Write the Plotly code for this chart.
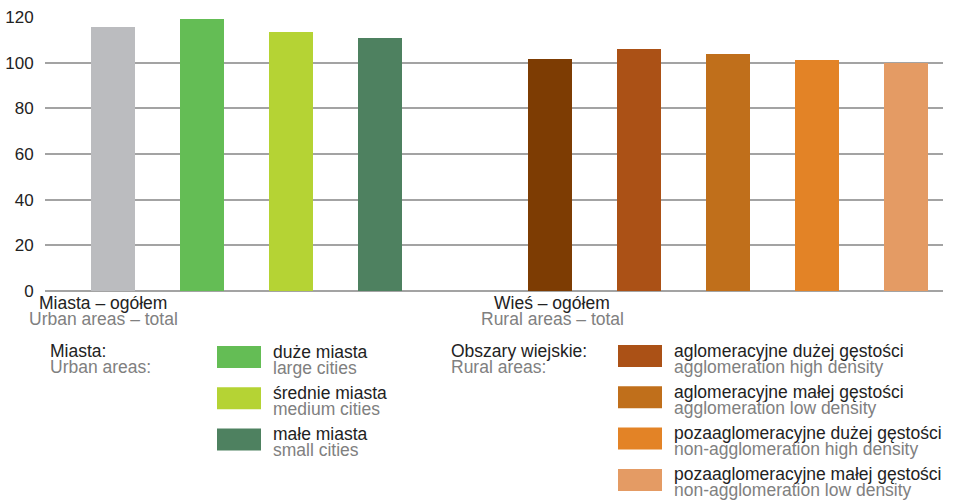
import plotly.graph_objects as go

# ---- data ----
urban_labels_pl = ["Miasta – ogółem", "duże miasta", "średnie miasta", "małe miasta"]
urban_labels_en = ["Urban areas – total", "large cities", "medium cities", "small cities"]
urban_values = [115.5, 119.0, 113.3, 110.6]
urban_colors = ["#BBBCBF", "#64BD55", "#B5D334", "#4E8160"]

rural_labels_pl = ["Wieś – ogółem", "aglomeracyjne dużej gęstości", "aglomeracyjne małej gęstości",
                   "pozaaglomeracyjne dużej gęstości", "pozaaglomeracyjne małej gęstości"]
rural_labels_en = ["Rural areas – total", "agglomeration high density", "agglomeration low density",
                   "non-agglomeration high density", "non-agglomeration low density"]
rural_values = [101.4, 105.8, 103.6, 101.0, 99.7]
rural_colors = ["#7D3C03", "#AB5116", "#C06F1B", "#E38326", "#E49B64"]

y_ticks = [0, 20, 40, 60, 80, 100, 120]

# ---- layout parameters ----
W, H = 954, 502
ML, MR, MT, MB = 45, 11, 17, 211
PW, PH = W - ML - MR, H - MT - MB
RURAL_OFFSET = 4.916
BAR_W = 0.495
FONT = "Liberation Sans, Arial, sans-serif"
DARK = "#222222"
GREY = "#808080"
FS = 17.5


def px(x):
    return (x - ML) / PW


def py(y):
    return (H - MB - y) / PH


urban_x = [i for i in range(len(urban_values))]
rural_x = [RURAL_OFFSET + i for i in range(len(rural_values))]

fig = go.Figure()
fig.add_trace(go.Bar(x=urban_x, y=urban_values, marker=dict(color=urban_colors, line=dict(width=0)),
                     width=BAR_W, hovertext=urban_labels_pl, showlegend=False))
fig.add_trace(go.Bar(x=rural_x, y=rural_values, marker=dict(color=rural_colors, line=dict(width=0)),
                     width=BAR_W, hovertext=rural_labels_pl, showlegend=False))

annotations = []
shapes = []


def text(x, y, s, color, anchor="left"):
    annotations.append(dict(xref="paper", yref="paper", x=px(x), y=py(y), text=s, showarrow=False,
                            xanchor=anchor, yanchor="middle", font=dict(family=FONT, size=FS, color=color),
                            borderpad=0))


# category labels below axis
text(103, 303, urban_labels_pl[0], DARK, "center")
text(103, 319, urban_labels_en[0], GREY, "center")
text(552, 303, rural_labels_pl[0], DARK, "center")
text(552, 319, rural_labels_en[0], GREY, "center")

# legend headings
text(49, 351, "Miasta:", DARK)
text(49, 367, "Urban areas:", GREY)
text(450, 351, "Obszary wiejskie:", DARK)
text(450, 367, "Rural areas:", GREY)

STEP = 41.3


def legend_item(sx, tx, y0, color, pl, en):
    shapes.append(dict(type="rect", xref="paper", yref="paper", x0=px(sx), x1=px(sx + 44),
                       y0=py(y0), y1=py(y0 + 22), fillcolor=color, line=dict(width=0)))
    text(tx, y0 + 5.5, pl, DARK)
    text(tx, y0 + 21.5, en, GREY)


for i in range(1, len(urban_values)):
    legend_item(217, 272, 346 + (i - 1) * STEP, urban_colors[i], urban_labels_pl[i], urban_labels_en[i])
for i in range(1, len(rural_values)):
    legend_item(618, 673, 345 + (i - 1) * STEP, rural_colors[i], rural_labels_pl[i], rural_labels_en[i])

fig.update_layout(
    width=W, height=H,
    margin=dict(l=ML, r=MR, t=MT, b=MB, pad=0, autoexpand=False),
    paper_bgcolor="white", plot_bgcolor="white",
    bargap=0,
    showlegend=False,
    annotations=annotations,
    shapes=shapes,
    font=dict(family=FONT, size=FS, color=DARK),
    xaxis=dict(range=[-0.765, 9.336], showticklabels=False, showgrid=False, zeroline=False,
               showline=False, ticks="", fixedrange=True, automargin=False),
    yaxis=dict(range=[0, 120], tickvals=y_ticks, showgrid=True, gridcolor="#A3A3A3", gridwidth=1.6,
               zeroline=True, zerolinecolor="#A3A3A3", zerolinewidth=1.6, showline=False,
               ticks="outside", ticklen=7, tickcolor="rgba(0,0,0,0)", automargin=False,
               tickfont=dict(family=FONT, size=17, color=DARK), fixedrange=True),
)

fig.write_html("out.html", config={"displayModeBar": False},
               post_script="document.body.style.margin='0';document.body.style.overflow='hidden';")
